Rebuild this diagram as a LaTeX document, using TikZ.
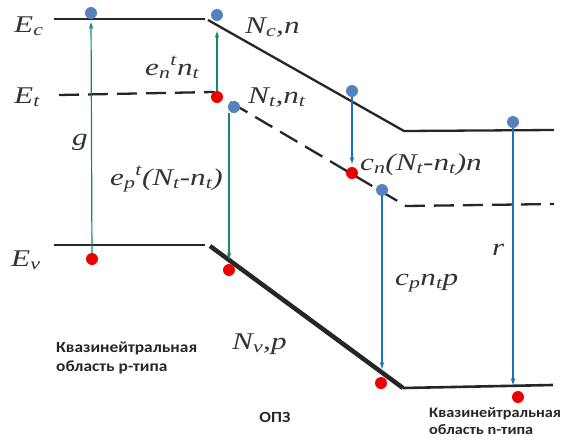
\documentclass[tikz,border=0pt]{standalone}
\usepackage{fontspec}
\setmainfont{Liberation Serif}[FakeStretch=1.3]
\newfontfamily\regfont{Carlito}[FakeStretch=1.12]
\usetikzlibrary{calc}
\usetikzlibrary{positioning}
\usetikzlibrary{arrows.meta}

\definecolor{dotblue}{RGB}{84,130,190}
\definecolor{dotred}{RGB}{238,0,0}
\definecolor{arrgreen}{RGB}{18,135,118}
\definecolor{arrblue}{RGB}{30,112,186}

\tikzset{
  edot/.style={circle, fill=dotblue, inner sep=0pt, minimum size=12pt},
  hdot/.style={circle, fill=dotred, inner sep=0pt, minimum size=12pt},
  band/.style={line width=2.3pt, black!85},
  gen/.style={arrgreen, line width=1.2pt, -{Stealth[length=7pt,width=4.5pt]}},
  rec/.style={arrblue, line width=1.2pt, -{Stealth[length=7pt,width=4.5pt]}},
  lbl/.style={font=\fontsize{24}{28}\selectfont\itshape, inner sep=0pt, text=black!80},
  region/.style={font=\regfont\bfseries\fontsize{15.5}{18.5}\selectfont, align=left, inner sep=0pt, text=black!85}
}

\begin{document}
\begin{tikzpicture}[x=1pt, y=-1pt, line join=round]
  \useasboundingbox (0,0) rectangle (566,445);

  % band edges
  \coordinate (ec0) at (54,19);   \coordinate (ec1) at (205,19);
  \coordinate (ec2) at (208,20);  \coordinate (ec3) at (404,131); \coordinate (ec4) at (554,130);
  \coordinate (et0) at (59,95);   \coordinate (et1) at (213,92);
  \coordinate (et2) at (406,206); \coordinate (et3) at (554,204);
  \coordinate (ev0) at (54,245);  \coordinate (ev1) at (205,245);
  \coordinate (ev2) at (210,246); \coordinate (ev3) at (403,388); \coordinate (ev4) at (553,385);

  \draw[band] (ec0) -- (ec1);
  \draw[band] (ec2) -- (ec3) -- (ec4);
  \draw[band, dash pattern=on 20pt off 9pt] (et0) -- (et1) -- (et2) -- (et3);
  \draw[band] (ev0) -- (ev1);
  \draw[black!85, line width=4.5pt] (ev2) -- (ev3);
  \draw[band, line width=2.6pt] (ev3) -- (ev4);

  % electrons and holes
  \foreach \n/\p in {e1/{91,13}, e2/{217,15}, e3/{234,107}, e4/{352,91}, e5/{382,190}, e6/{513,122}}
    \node[edot] (\n) at (\p) {};
  \foreach \n/\p in {h1/{92,259}, h2/{217,97}, h3/{229,270}, h4/{352,173}, h5/{381,383}, h6/{518,397}}
    \node[hdot] (\n) at (\p) {};

  % transitions
  \draw[gen, shorten >=3pt] (h1) -- (e1);
  \draw[gen, shorten >=10pt] (h2) -- (e2);
  \draw[gen, shorten >=4pt] (e3.south -| h3) -- (h3);
  \draw[rec, shorten >=3pt] (e4) -- (h4);
  \draw[rec, shorten >=8pt] (e5) -- (e5 |- h5.north);
  \draw[rec] (e6) -- (e6 |- ev4);

  % levels
  \node[lbl, anchor=base west] (Ec) at (14,32) {E\textsubscript{c}};
  \node[lbl, anchor=base west] (Et) at (14,103) {E\textsubscript{t}};
  \node[lbl, anchor=base west] (Ev) at (11,266) {E\textsubscript{v}};
  \node[lbl, anchor=base west] (g) at (72,145) {g};
  \node[lbl, anchor=base west] (ent) at (145,75) {e\textsubscript{n}\textsuperscript{t}n\textsubscript{t}};
  \node[lbl, anchor=base west] (Ncn) at (245,33) {N\textsubscript{c},n};
  \node[lbl, anchor=base west] (Ntn) at (248,103) {N\textsubscript{t},n\textsubscript{t}};
  \node[lbl, anchor=base west] (ept) at (110,185) {e\textsubscript{p}\textsuperscript{t}(N\textsubscript{t}-n\textsubscript{t})};
  \node[lbl, anchor=base west] (cn) at (360,170) {c\textsubscript{n}(N\textsubscript{t}-n\textsubscript{t})n};
  \node[lbl, anchor=base west] (cp) at (395,285) {c\textsubscript{p}n\textsubscript{t}p};
  \node[lbl, anchor=base west] (r) at (492,255) {r};
  \node[lbl, anchor=base west] (Nvp) at (232,349) {N\textsubscript{v},p};

  % regions
  \node[region, anchor=north west] (preg) at (56,342) {Квазинейтральная\\область p-типа};
  \node[region] (scr) at (275,417) {ОПЗ};
  \node[region, font=\regfont\bfseries\fontsize{14.5}{17.5}\selectfont, anchor=north west] (nreg) at (429,407) {Квазинейтральная\\область n-типа};
\end{tikzpicture}
\end{document}
